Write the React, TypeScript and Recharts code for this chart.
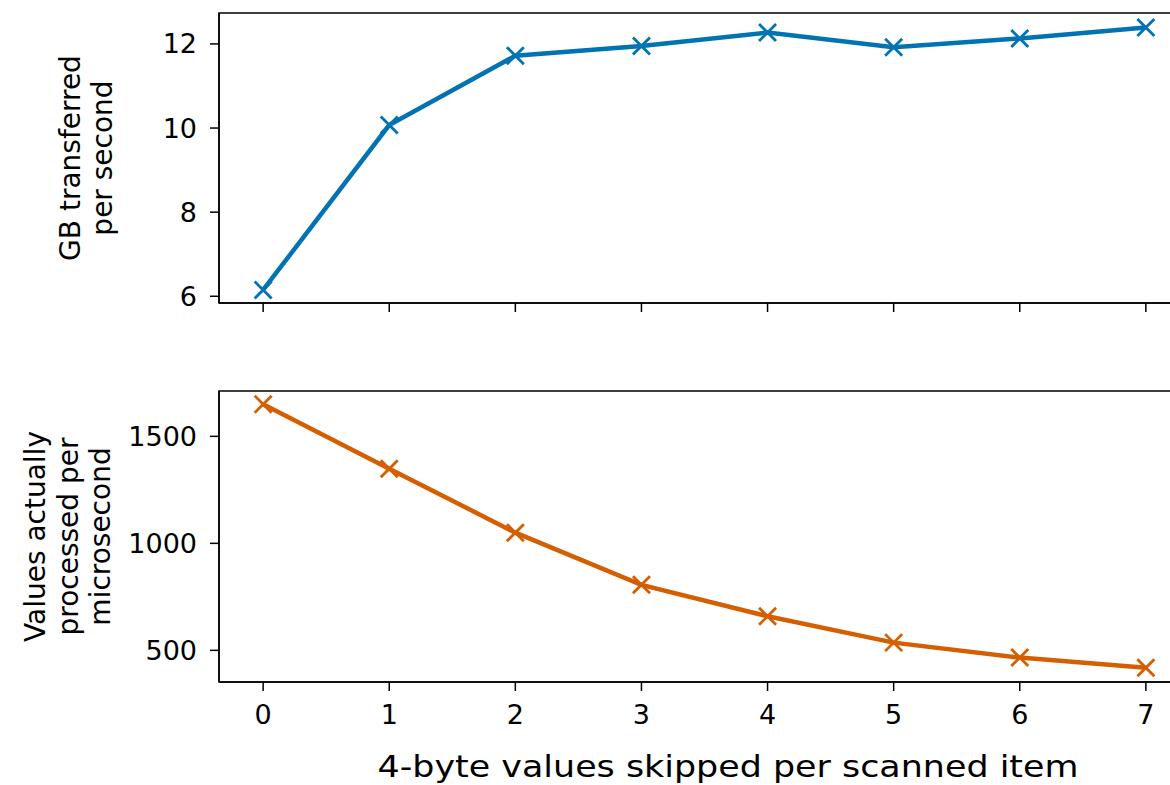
import React from 'react';
import { LineChart, Line, XAxis, YAxis, ReferenceArea } from 'recharts';

const skipped = [0, 1, 2, 3, 4, 5, 6, 7];
const gbPerSecond = [6.15, 10.07, 11.72, 11.95, 12.27, 11.92, 12.13, 12.39];
const valuesPerMicrosecond = [1650, 1349, 1050, 806, 659, 536, 466, 419];
const xTicks = [0, 1, 2, 3, 4, 5, 6, 7];
const topYTicks = [6, 8, 10, 12];
const bottomYTicks = [500, 1000, 1500];
const xDomain: [number, number] = [-0.35, 7.35];
const topYDomain: [number, number] = [5.84, 12.735];
const bottomYDomain: [number, number] = [352, 1712];

const BLUE = '#0173B2';
const ORANGE = '#D55E00';
const FONT = 'DejaVu Sans';

const data = skipped.map((x, i) => ({ x, gb: gbPerSecond[i], vals: valuesPerMicrosecond[i] }));

const makeMarker = (color: string) => (props: any) => {
  const { cx, cy, index } = props;
  if (cx == null || cy == null) return <g key={`m-${index}`} />;
  const s = 8.5;
  return (
    <g key={`m-${index}`}>
      <line x1={cx - s} y1={cy - s} x2={cx + s} y2={cy + s} stroke={color} strokeWidth={2.8} />
      <line x1={cx - s} y1={cy + s} x2={cx + s} y2={cy - s} stroke={color} strokeWidth={2.8} />
    </g>
  );
};

const rotatedLines = (lines: string[], baselines: number[], cy: number) => (
  <g>
    {lines.map((t, i) => (
      <text
        key={i}
        x={baselines[i]}
        y={cy}
        transform={`rotate(-90, ${baselines[i]}, ${cy})`}
        textAnchor="middle"
        fontFamily={FONT}
        fontSize={28}
        fill="#000"
      >
        {t}
      </text>
    ))}
  </g>
);

const TopYLabel = (props: any) => {
  const vb = props.viewBox || { x: 0, y: 13, width: 219, height: 290 };
  const cy = vb.y + vb.height / 2;
  return rotatedLines(['GB transferred', 'per second'], [vb.x + 80, vb.x + 112], cy);
};

const BottomYLabel = (props: any) => {
  const vb = props.viewBox || { x: 0, y: 13, width: 219, height: 291 };
  const cy = vb.y + vb.height / 2;
  return rotatedLines(
    ['Values actually', 'processed per', 'microsecond'],
    [vb.x + 45, vb.x + 77.5, vb.x + 110],
    cy
  );
};

const BottomXLabel = (props: any) => {
  const vb = props.viewBox || { x: 0, y: 304, width: 1190, height: 103 };
  return (
    <text
      x={728}
      y={vb.y + 95}
      textAnchor="middle"
      fontFamily={FONT}
      fontSize={31}
      textLength={701}
      lengthAdjust="spacingAndGlyphs"
      fill="#000"
    >
      4-byte values skipped per scanned item
    </text>
  );
};

const tickStyle = { fontFamily: FONT, fontSize: 27, fill: '#000' };
const lineStyle = { stroke: '#000', strokeWidth: 1.5 };

export default function App() {
  return (
    <div
      style={{
        position: 'fixed',
        left: 0,
        top: 0,
        width: 1170,
        height: 785,
        overflow: 'hidden',
        background: '#fff',
      }}
    >
      <div style={{ position: 'absolute', left: 0, top: 0 }}>
        <LineChart width={1200} height={320} data={data} margin={{ top: 13, right: 10, bottom: 0, left: 0 }}>
          <XAxis
            type="number"
            dataKey="x"
            domain={xDomain}
            ticks={xTicks}
            allowDataOverflow
            height={17}
            tickSize={9}
            tickFormatter={() => ''}
            axisLine={lineStyle}
            tickLine={lineStyle}
          />
          <YAxis
            type="number"
            domain={topYDomain}
            ticks={topYTicks}
            allowDataOverflow
            width={219}
            tickSize={9}
            tickMargin={13}
            tick={tickStyle}
            axisLine={lineStyle}
            tickLine={lineStyle}
            label={{ content: TopYLabel }}
          />
          <ReferenceArea
            x1={xDomain[0]}
            x2={xDomain[1]}
            y1={topYDomain[0]}
            y2={topYDomain[1]}
            fill="none"
            fillOpacity={0}
            stroke="#000"
            strokeWidth={1.5}
          />
          <Line
            type="linear"
            dataKey="gb"
            stroke={BLUE}
            strokeWidth={4.5}
            dot={makeMarker(BLUE)}
            activeDot={false}
            isAnimationActive={false}
          />
        </LineChart>
      </div>
      <div style={{ position: 'absolute', left: 0, top: 378 }}>
        <LineChart width={1200} height={407} data={data} margin={{ top: 13, right: 10, bottom: 0, left: 0 }}>
          <XAxis
            type="number"
            dataKey="x"
            domain={xDomain}
            ticks={xTicks}
            allowDataOverflow
            height={103}
            tickSize={9}
            tickMargin={13.5}
            tick={tickStyle}
            axisLine={lineStyle}
            tickLine={lineStyle}
            label={{ content: BottomXLabel }}
          />
          <YAxis
            type="number"
            domain={bottomYDomain}
            ticks={bottomYTicks}
            allowDataOverflow
            width={219}
            tickSize={9}
            tickMargin={13}
            tick={tickStyle}
            axisLine={lineStyle}
            tickLine={lineStyle}
            label={{ content: BottomYLabel }}
          />
          <ReferenceArea
            x1={xDomain[0]}
            x2={xDomain[1]}
            y1={bottomYDomain[0]}
            y2={bottomYDomain[1]}
            fill="none"
            fillOpacity={0}
            stroke="#000"
            strokeWidth={1.5}
          />
          <Line
            type="linear"
            dataKey="vals"
            stroke={ORANGE}
            strokeWidth={4.5}
            dot={makeMarker(ORANGE)}
            activeDot={false}
            isAnimationActive={false}
          />
        </LineChart>
      </div>
    </div>
  );
}
